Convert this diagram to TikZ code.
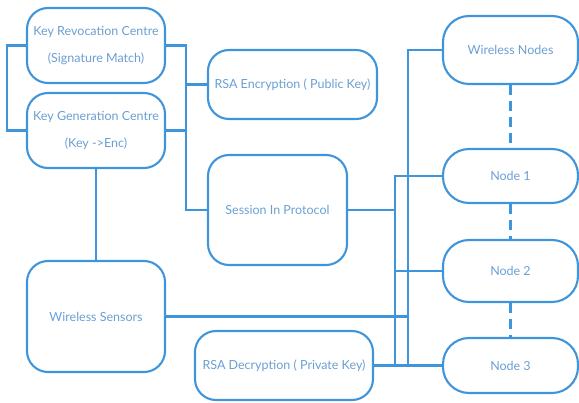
\documentclass[tikz,border=0pt]{standalone}
\usepackage{fontspec}
\setmainfont{Lato}
\usepackage{tikz}
\definecolor{boxblue}{HTML}{3E95DB}
\definecolor{txtblue}{HTML}{6A9FD2}

\begin{document}
\begin{tikzpicture}[x=1pt, y=-1pt,
  box/.style={rectangle, draw=boxblue, line width=2.1pt, rounded corners=21pt,
    inner sep=0pt, align=center, text=txtblue, font=\fontsize{12.5}{27}\selectfont},
  link/.style={draw=boxblue, line width=2.1pt}]
  \useasboundingbox (0,0) rectangle (579,403);
  \node[box, minimum width=138pt, minimum height=75pt] (krc) at (96,45.5) {Key Revocation Centre\\(Signature Match)};
  \node[box, minimum width=138pt, minimum height=75pt] (kgc) at (96,130.5) {Key Generation Centre\\(Key ->Enc)};
  \node[box, minimum width=169pt, minimum height=69pt] (enc) at (292.5,84.5) {RSA Encryption ( Public Key)};
  \node[box, minimum width=139pt, minimum height=110pt] (sess) at (277.5,210) {Session In Protocol};
  \node[box, minimum width=138pt, minimum height=111pt] (sens) at (96,316.5) {Wireless Sensors};
  \node[box, minimum width=178pt, minimum height=69pt] (dec) at (284,365.5) {RSA Decryption ( Private Key)};
  \node[box, rounded corners=26pt, minimum width=135pt, minimum height=68pt] (wn) at (510.5,50) {Wireless Nodes};
  \node[box, rounded corners=26pt, minimum width=135pt, minimum height=54pt] (n1) at (510.5,176) {Node 1};
  \node[box, rounded corners=26pt, minimum width=135pt, minimum height=62pt] (n2) at (510.5,271) {Node 2};
  \node[box, rounded corners=26pt, minimum width=135pt, minimum height=55pt] (n3) at (510.5,365.5) {Node 3};
  % bus lines
  \coordinate (bl) at (186,0);
  \coordinate (ba) at (395,0);
  \coordinate (bb) at (408,0);
  \draw[link] (krc.west) -- ++(-19,0) |- (kgc.west);
  \draw[link] (krc.east) -| (bl |- sess.west) -- (sess.west);
  \draw[link] (kgc.east) -- (kgc.east -| bl);
  \draw[link] (enc.west) -- (enc.west -| bl);
  \draw[link] (kgc.south) -- (sens.north);
  \draw[link] (wn.west) -| (bb |- n3.west);
  \draw[link] (n1.west) -| (ba |- n3.west);
  \draw[link] (sess.east) -- (sess.east -| ba);
  \draw[link] (n2.west) -- (n2.west -| ba);
  \draw[link] (sens.east) -- (sens.east -| bb);
  \draw[link] (dec.east) -- (n3.west);
  % dashed links between nodes
  \draw[link, dash pattern=on 10pt off 6pt] (wn.south) -- (n1.north);
  \draw[link, dash pattern=on 10pt off 6pt] (n1.south) -- (n2.north);
  \draw[link, dash pattern=on 10pt off 6pt] (n2.south) -- (n3.north);
\end{tikzpicture}
\end{document}
